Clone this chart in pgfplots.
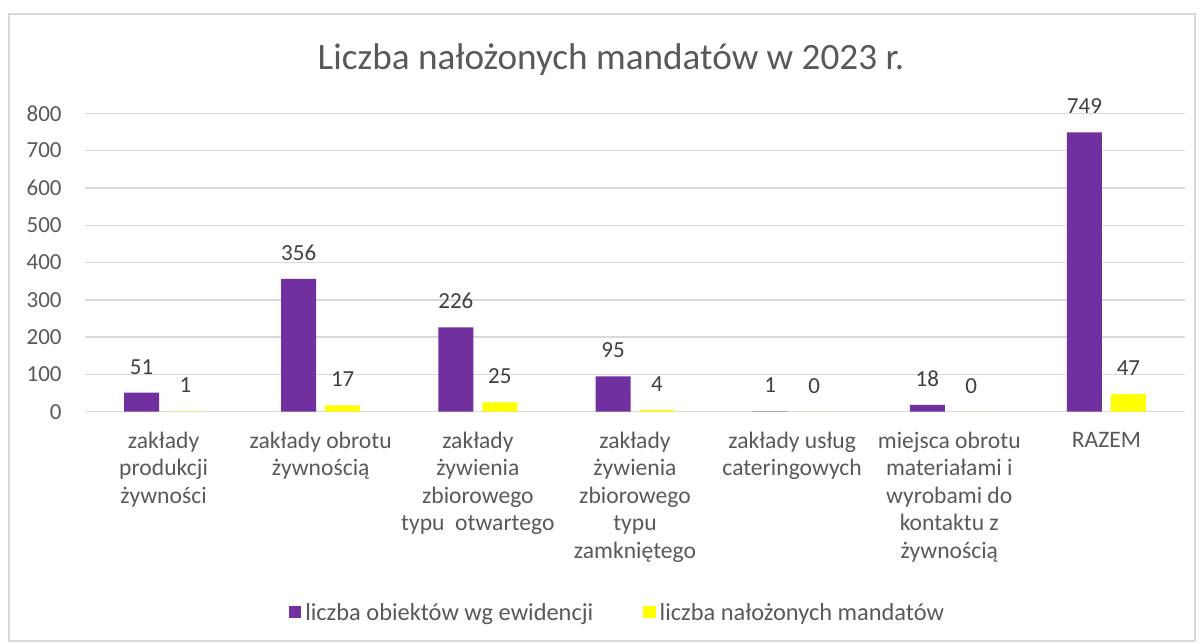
\documentclass[border=0pt]{standalone}
\usepackage{fontspec}
\setmainfont{Carlito}
\usepackage{pgfplots}
\pgfplotsset{compat=1.18}
\definecolor{fiolet}{HTML}{7030A0}
\definecolor{zolty}{HTML}{FFFF00}
\definecolor{txt}{HTML}{595959}
\definecolor{lbl}{HTML}{404040}
\definecolor{grd}{HTML}{D9D9D9}

\begin{document}
\begin{tikzpicture}
\path[use as bounding box] (0,0) rectangle (601pt,321.5pt);
\draw[grd, line width=0.6pt] (4.5pt,1pt) rectangle (597.5pt,314.5pt);
\node[txt, font=\fontsize{18.6}{22}\selectfont] at (305.5pt,291.5pt) {Liczba nałożonych mandatów w 2023 r.};
\begin{axis}[
    at={(42.5pt,115.65pt)}, anchor=south west,
    scale only axis,
    width=550pt, height=149.2pt,
    ybar=4.5pt,
    bar width=17.5pt,
    xmin=-0.5, xmax=6.5,
    ymin=0, ymax=800,
    ytick={0,100,...,800},
    xtick={0,...,6},
    xticklabels={
        {zakłady\\produkcji\\żywności},
        {zakłady obrotu\\żywnością},
        {zakłady\\żywienia\\zbiorowego\\typu\ \ otwartego},
        {zakłady\\żywienia\\zbiorowego\\typu\\zamkniętego},
        {zakłady usług\\cateringowych},
        {miejsca obrotu\\materiałami i\\wyrobami do\\kontaktu z\\żywnością},
        {RAZEM}},
    xticklabel style={align=center, anchor=north, inner sep=0pt, yshift=-10pt,
        font=\fontsize{11.8}{13.7}\selectfont, text=txt},
    yticklabel style={anchor=east, inner sep=0pt, xshift=-11.5pt,
        font=\fontsize{11.5}{13.5}\selectfont, text=txt},
    /pgf/number format/assume math mode=true,
    major tick length=0pt,
    axis line style={draw=none},
    ymajorgrids=true,
    grid style={grd, line width=0.7pt},
    nodes near coords,
    every node near coord/.append style={anchor=south, inner sep=0pt, yshift=9pt,
        font=\fontsize{11.5}{13.5}\selectfont, text=lbl},
    legend columns=2,
    legend style={draw=none, fill=none, at={(0.485,-0.675)}, anchor=center,
        font=\fontsize{12.2}{14}\selectfont, text=txt,
        /tikz/every even column/.append style={column sep=23pt}},
    legend cell align=left,
]
\addplot[fill=fiolet, draw=none,
    legend image code/.code={\fill[fiolet] (0pt,-2.6pt) rectangle (6.2pt,3.6pt);}]
    coordinates {(0,51) (1,356) (2,226) (3,95) (4,1) (5,18) (6,749)};
\addplot[fill=zolty, draw=none,
    legend image code/.code={\fill[zolty] (0pt,-2.6pt) rectangle (6.2pt,3.6pt);}]
    coordinates {(0,1) (1,17) (2,25) (3,4) (4,0) (5,0) (6,47)};
\legend{liczba obiektów wg ewidencji, liczba nałożonych mandatów}
\end{axis}
\end{tikzpicture}
\end{document}
